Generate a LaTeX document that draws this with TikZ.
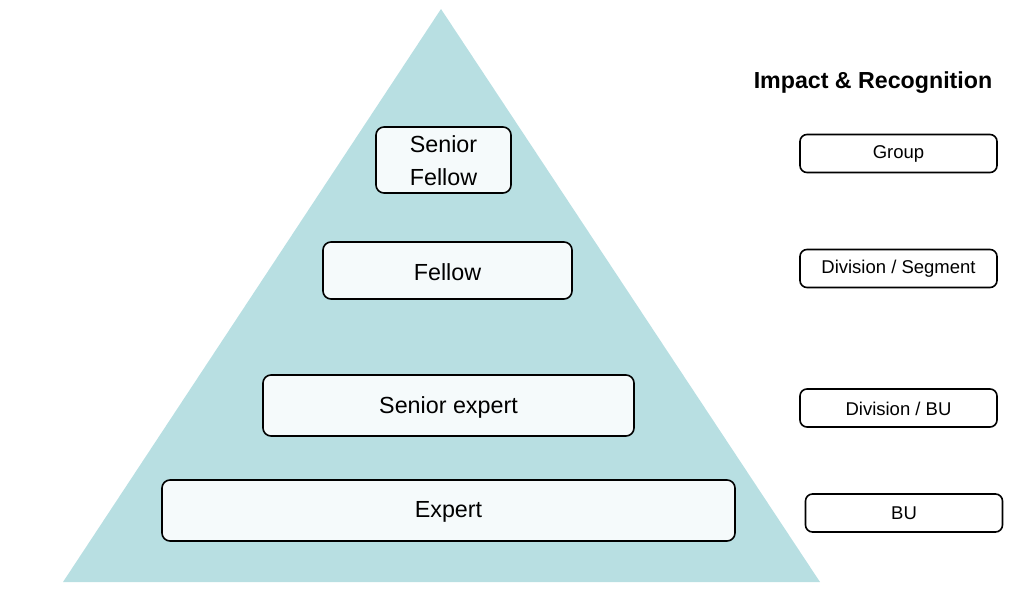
\documentclass[tikz,border=0pt]{standalone}
\usepackage{fontspec}
\setmainfont{Liberation Sans}
\definecolor{tri}{HTML}{B8DFE2}
\definecolor{boxfill}{HTML}{F5FAFB}
\begin{document}
\begin{tikzpicture}[x=1pt,y=-1pt,
  lvl/.style={draw=black,line width=1.6pt,rounded corners=8pt,fill=boxfill,inner sep=0pt},
  lvltext/.style={font=\fontsize{23.3}{33}\selectfont,align=center,inner sep=0pt},
  imp/.style={draw=black,line width=1.6pt,rounded corners=7pt,fill=white,inner sep=0pt,
    minimum width=197pt,minimum height=38pt},
  imptext/.style={font=\fontsize{18.5}{20}\selectfont,inner sep=0pt}]
\useasboundingbox (0,0) rectangle (1014,592);
\fill[tri] (441,9) -- (820,582) -- (63,582) -- cycle;
\node[lvl,minimum width=135pt,minimum height=66pt] (sf) at (443.5,160) {};
\node[lvltext] (sft) at (443.5,161) {Senior\\Fellow};
\node[lvl,minimum width=249pt,minimum height=57pt] (f) at (447.5,270.5) {};
\node[lvltext] (ft) at (447.5,272) {Fellow};
\node[lvl,minimum width=371pt,minimum height=61pt] (se) at (448.5,405.5) {};
\node[lvltext] (set) at (448.5,407) {Senior expert};
\node[lvl,minimum width=573pt,minimum height=61pt] (e) at (448.5,510.5) {};
\node[lvltext] (et) at (448.5,512) {Expert};
\node[font=\bfseries\fontsize{23.2}{26}\selectfont] (title) at (873,83) {Impact \& Recognition};
\node[imp] (g) at (898.5,153.5) {};
\node[imptext] (gt) at (898.5,154) {Group};
\node[imp] (ds) at (898.5,268.5) {};
\node[imptext] (dst) at (898.5,269) {Division / Segment};
\node[imp] (db) at (898.5,408) {};
\node[imptext] (dbt) at (898.5,408.5) {Division / BU};
\node[imp] (bu) at (904,513) {};
\node[imptext] (but) at (904,513.5) {BU};
\end{tikzpicture}
\end{document}
